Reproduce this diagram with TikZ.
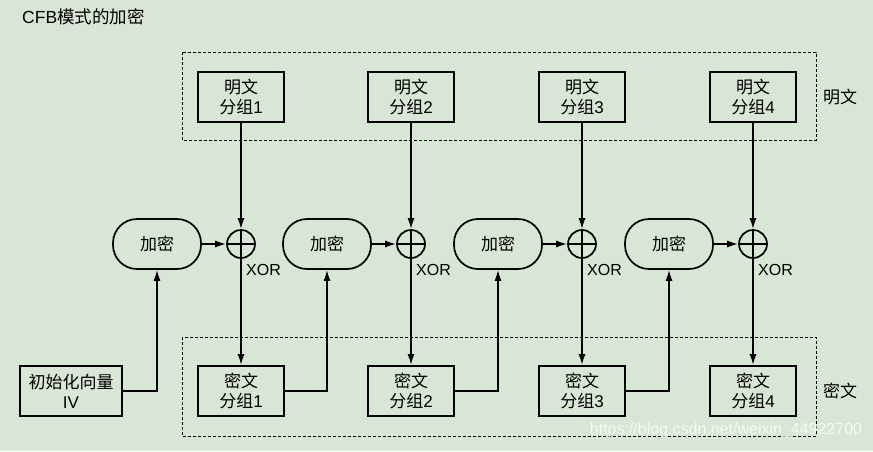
\documentclass[tikz,border=0pt]{standalone}
\usepackage{fontspec}
\setmainfont{Liberation Sans}
\newfontfamily\cjk{Noto Sans CJK SC}
\usetikzlibrary{arrows.meta}
\definecolor{bg}{RGB}{216,230,213}
\begin{document}
\begin{tikzpicture}[x=1pt,y=-1pt,
 box/.style={draw,line width=2pt,minimum width=86pt,minimum height=50pt,inner sep=0pt,align=center,font=\fontsize{17}{20}\selectfont},
 enc/.style={draw,line width=1.7pt,rounded corners=24pt,minimum width=88pt,minimum height=50pt,font=\cjk\fontsize{17}{20}\selectfont},
 xor/.style={draw,circle,line width=1.7pt,minimum size=28pt,inner sep=0pt,path picture={\draw[line width=1.5pt] (path picture bounding box.north) -- (path picture bounding box.south) (path picture bounding box.west) -- (path picture bounding box.east);}},
 grp/.style={draw,line width=1pt,dash pattern=on 3pt off 2pt},
 conn/.style={line width=1.6pt},
 arr/.style={conn,-{Latex[length=11pt,width=7pt]}},
 lbl/.style={font=\cjk\fontsize{17}{20}\selectfont},
 xorlbl/.style={anchor=west,inner sep=0pt,font=\fontsize{16}{18}\selectfont}
]
\fill[bg] (0,0) rectangle (873,451);
\useasboundingbox (0,0) rectangle (873,451);
\node[anchor=west,inner sep=0pt,font=\fontsize{17.5}{20}\selectfont] (title) at (22,17) {CFB{\cjk 模式的加密}};
\draw[grp] (182,52) rectangle (816,140);
\draw[grp] (182,337) rectangle (816,436);
\node[lbl] (lp) at (840,97) {明文};
\node[lbl] (lc) at (840,391) {密文};
\node[box] (iv) at (71,391) [minimum width=102pt] {{\cjk 初始化向量}\\IV};
\foreach \i/\px/\ex in {1/241/157,2/411/327,3/582/498,4/753/669}{
  \node[box] (p\i) at (\px,97) {{\cjk 明文}\\{\cjk 分组}\i};
  \node[box] (c\i) at (\px,391) {{\cjk 密文}\\{\cjk 分组}\i};
  \node[enc] (e\i) at (\ex,244) {加密};
  \node[xor] (x\i) at (\px,244) {};
  \node[xorlbl] (xl\i) at (\px+5,270) {XOR};
  \draw[arr] (p\i) -- (x\i);
  \draw[arr] (e\i) -- (x\i);
  \draw[arr] (x\i) -- (c\i);
}
\draw[arr] (iv.east) -| (e1.south);
\draw[arr] (c1.east) -| (e2.south);
\draw[arr] (c2.east) -| (e3.south);
\draw[arr] (c3.east) -| (e4.south);
\node[text=white,opacity=0.8,font=\fontsize{16}{18}\selectfont] (wm) at (726,430) {https://blog.csdn.net/weixin\_44922700};
\end{tikzpicture}
\end{document}
